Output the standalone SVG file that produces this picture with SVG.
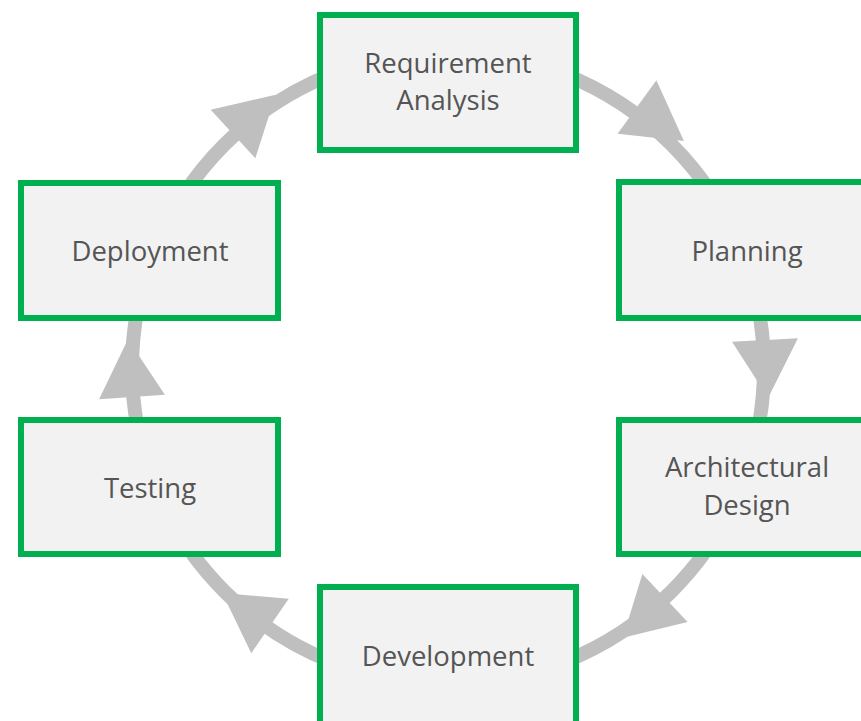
<svg xmlns="http://www.w3.org/2000/svg" width="861" height="721" viewBox="0 0 861 721">
  <style>
    .box { fill: #F2F2F2; stroke: #00B050; stroke-width: 6; }
    .label { font-family: "Open Sans", "Liberation Sans", sans-serif; font-size: 27.5px; fill: #555555; text-anchor: middle; }
    .ring { fill: none; stroke: #BFBFBF; stroke-width: 14; }
    .head { fill: #BFBFBF; }
  </style>
  <defs>
    <!-- arrowhead: base on the y axis, tip pointing along +x -->
    <polygon id="arrowhead" class="head" points="0,-33 0,33 58,0"/>
  </defs>
  <rect width="861" height="721" fill="#FFFFFF"/>

  <g id="connectors">
    <circle class="ring" cx="448" cy="368" r="316"/>
    <use href="#arrowhead" transform="translate(637,107) rotate(36)"/>
    <use href="#arrowhead" transform="translate(765,340) rotate(87)"/>
    <use href="#arrowhead" transform="translate(665,598) rotate(136.7)"/>
    <use href="#arrowhead" transform="translate(270,626) rotate(214.6)"/>
    <use href="#arrowhead" transform="translate(132,397) rotate(266)"/>
    <use href="#arrowhead" transform="translate(233,134) rotate(-42.6)"/>
  </g>

  <g id="requirement-analysis">
    <rect class="box" x="320" y="15" width="256" height="135"/>
    <text class="label" x="448" y="73">Requirement</text>
    <text class="label" x="448" y="110">Analysis</text>
  </g>

  <g id="planning">
    <rect class="box" x="619" y="182" width="256" height="136"/>
    <text class="label" x="747" y="261">Planning</text>
  </g>

  <g id="architectural-design">
    <rect class="box" x="619" y="420" width="256" height="134"/>
    <text class="label" x="747" y="477">Architectural</text>
    <text class="label" x="747" y="515">Design</text>
  </g>

  <g id="development">
    <rect class="box" x="320" y="587" width="256" height="140"/>
    <text class="label" x="448" y="666">Development</text>
  </g>

  <g id="testing">
    <rect class="box" x="21" y="420" width="257" height="134"/>
    <text class="label" x="150" y="498">Testing</text>
  </g>

  <g id="deployment">
    <rect class="box" x="21" y="183" width="257" height="135"/>
    <text class="label" x="150" y="261">Deployment</text>
  </g>
</svg>
